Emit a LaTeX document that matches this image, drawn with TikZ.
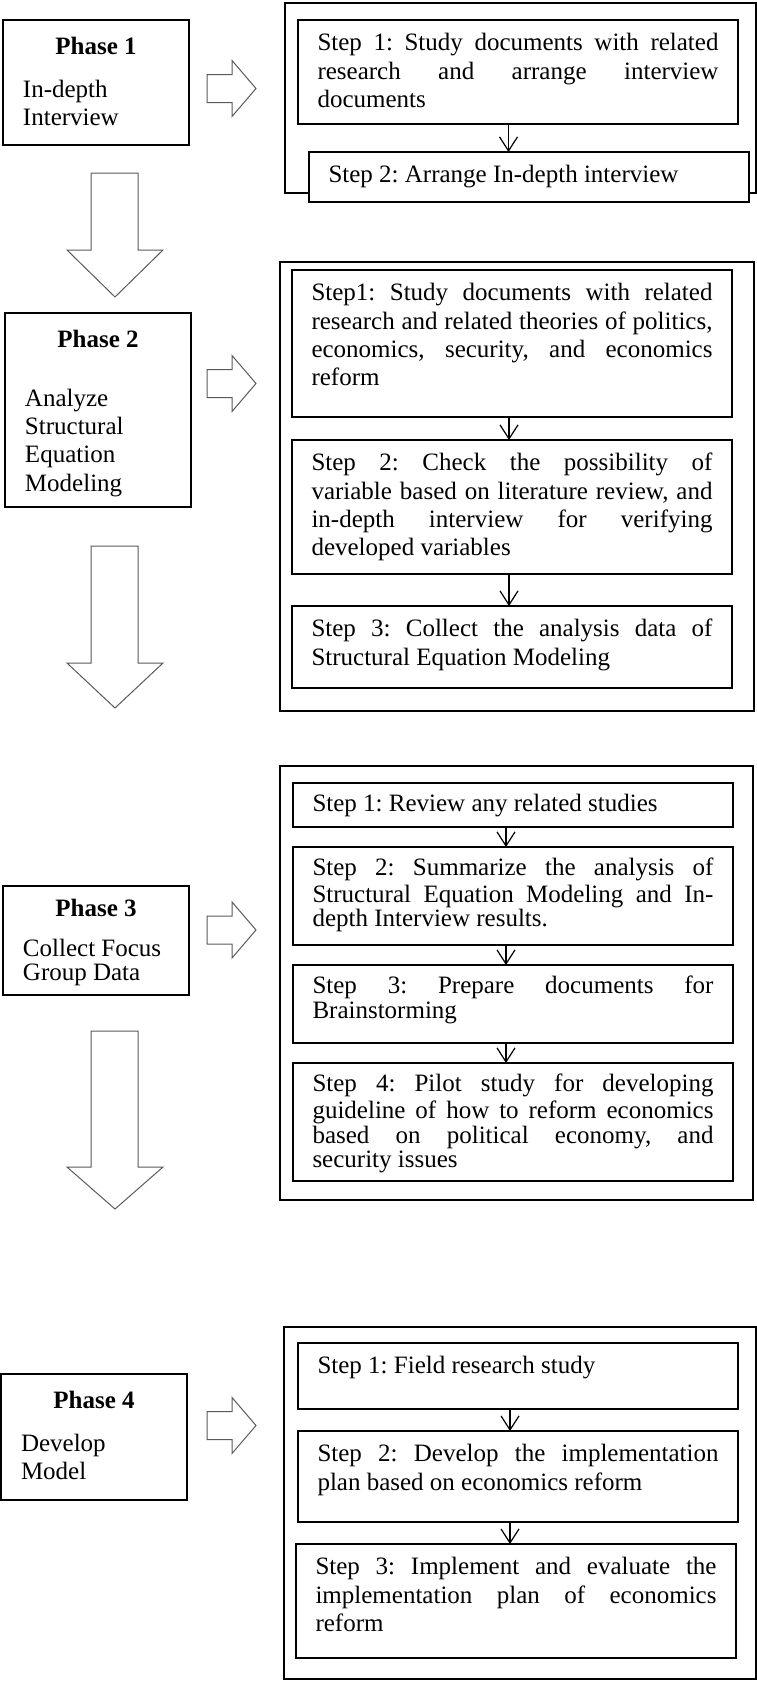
\documentclass[tikz,border=0pt]{standalone}
\usepackage{fontspec}
\setmainfont{Liberation Serif}
\usetikzlibrary{arrows.meta}
\frenchspacing
\hbadness=10000
\vbadness=10000
\hfuzz=2pt
\vfuzz=20pt
\newcommand{\steptext}[2]{\parbox[t][#1][t]{200.5pt}{\hyphenpenalty=10000\tolerance=10000\strut #2}}
\newcommand{\phasetext}[4]{\parbox[t][#1][t]{73pt}{\centering\strut\textbf{#2}\par\vspace{#3}\raggedright #4}}

\begin{document}
\begin{tikzpicture}[x=0.5pt,y=-0.5pt,font=\fontsize{12.5pt}{14.15pt}\selectfont]
    \tikzset{groupbox/.style = {draw,line width=0.75pt,anchor=north west,inner sep=0pt,outer sep=0pt}}
    \tikzset{phasebox/.style = {draw,line width=0.75pt,anchor=north west,inner xsep=10pt,inner ysep=7.1pt,outer sep=0pt}}
    \tikzset{stepbox/.style = {draw,line width=0.75pt,fill=white,anchor=north west,inner xsep=9.75pt,inner ysep=5.5pt,outer sep=0pt}}
    \tikzset{tightlines/.style = {font=\fontsize{12.5pt}{12.25pt}\selectfont}}
    \tikzset{steparrow/.style = {-{Straight Barb[length=7pt,width=9pt]},line width=0.6pt}}
    \tikzset{blockarrow/.style = {draw=black!65,line width=0.5pt}}
    \useasboundingbox (0,0) rectangle (756,1681);

    % groups of steps
    \node[groupbox,minimum width=235.5pt,minimum height=95pt] (c1) at (285,3) {};
    \node[groupbox,minimum width=237pt,minimum height=224.5pt] (c2) at (280,262) {};
    \node[groupbox,minimum width=236.5pt,minimum height=217pt] (c3) at (280,766) {};
    \node[groupbox,minimum width=236pt,minimum height=176pt] (c4) at (284,1327) {};

    % phases
    \node[phasebox] (p1) at (3,20) {\phasetext{48.3pt}{Phase 1}{7.35pt}{In-depth\\Interview}};
    \node[phasebox] (p2) at (5,313) {\phasetext{82.8pt}{Phase 2}{15.5pt}{Analyze\\Structural\\Equation\\Modeling}};
    \node[phasebox,tightlines,inner ysep=6.4pt] (p3) at (3,886) {\phasetext{41.65pt}{Phase 3}{6.75pt}{Collect Focus\\Group Data}};
    \node[phasebox] (p4) at (1,1374) {\phasetext{48.8pt}{Phase 4}{7.35pt}{Develop\\Model}};

    % block arrows
    \draw[blockarrow] (207,74.5) -- (232,74.5) -- (232,60.5) -- (256,88.5) -- (232,116.5) -- (232,102.5) -- (207,102.5) -- cycle;
    \draw[blockarrow] (207,369.5) -- (232,369.5) -- (232,355.5) -- (256,383.5) -- (232,411.5) -- (232,397.5) -- (207,397.5) -- cycle;
    \draw[blockarrow] (207,916) -- (232,916) -- (232,902) -- (256,930) -- (232,958) -- (232,944) -- (207,944) -- cycle;
    \draw[blockarrow] (207,1411.5) -- (232,1411.5) -- (232,1397.5) -- (256,1425.5) -- (232,1453.5) -- (232,1439.5) -- (207,1439.5) -- cycle;
    \draw[blockarrow] (91,173) -- (138,173) -- (138,250) -- (163,250) -- (115,297) -- (67,250) -- (91,250) -- cycle;
    \draw[blockarrow] (91,546) -- (138,546) -- (138,663) -- (163,663) -- (115,708) -- (67,663) -- (91,663) -- cycle;
    \draw[blockarrow] (91,1031) -- (138,1031) -- (138,1167) -- (163,1167) -- (115,1209) -- (67,1167) -- (91,1167) -- cycle;

    % steps of phase 1
    \node[stepbox] (s11) at (298,20) {\steptext{41pt}{Step 1: Study documents with related\linebreak research and arrange interview\linebreak documents}};
    \node[stepbox] (s12) at (309,152) {\steptext{14pt}{Step 2: Arrange In-depth interview}};
    % steps of phase 2
    \node[stepbox] (s21) at (292,270) {\steptext{62.5pt}{Step1: Study documents with related\linebreak research and related theories of politics,\linebreak economics, security, and economics\linebreak reform}};
    \node[stepbox] (s22) at (292,440) {\steptext{56pt}{Step 2: Check the possibility of\linebreak variable based on literature review, and\linebreak in-depth interview for verifying\linebreak developed variables}};
    \node[stepbox] (s23) at (292,606) {\steptext{30pt}{Step 3: Collect the analysis data of\linebreak Structural Equation Modeling}};
    % steps of phase 3
    \node[stepbox,tightlines] (s31) at (293,783) {\steptext{11pt}{Step 1: Review any related studies}};
    \node[stepbox,tightlines] (s32) at (293,847) {\steptext{38pt}{Step 2: Summarize the analysis of\linebreak Structural Equation Modeling and In-\linebreak depth Interview results.}};
    \node[stepbox,tightlines] (s33) at (293,965) {\steptext{28pt}{Step 3: Prepare documents for\linebreak Brainstorming}};
    \node[stepbox,tightlines] (s34) at (293,1063) {\steptext{48pt}{Step 4: Pilot study for developing\linebreak guideline of how to reform economics\linebreak based on political economy, and\linebreak security issues}};
    % steps of phase 4
    \node[stepbox] (s41) at (298,1343) {\steptext{22pt}{Step 1: Field research study}};
    \node[stepbox] (s42) at (298,1431) {\steptext{34.5pt}{Step 2: Develop the implementation\linebreak plan based on economics reform}};
    \node[stepbox] (s43) at (296,1544) {\steptext{46pt}{Step 3: Implement and evaluate the\linebreak implementation plan of economics\linebreak reform}};

    % arrows between steps
    \coordinate (a11) at ([xshift=-4.75pt]s11.south);
    \coordinate (a21) at ([xshift=-1.5pt]s21.south);
    \coordinate (a22) at ([xshift=-1.5pt]s22.south);
    \coordinate (a31) at ([xshift=-3.5pt]s31.south);
    \coordinate (a32) at ([xshift=-3.5pt]s32.south);
    \coordinate (a33) at ([xshift=-3.5pt]s33.south);
    \coordinate (a41) at ([xshift=-4pt]s41.south);
    \coordinate (a42) at ([xshift=-4pt]s42.south);
    \draw[steparrow] (a11) -- (a11 |- s12.north);
    \draw[steparrow] (a21) -- (a21 |- s22.north);
    \draw[steparrow] (a22) -- (a22 |- s23.north);
    \draw[steparrow] (a31) -- (a31 |- s32.north);
    \draw[steparrow] (a32) -- (a32 |- s33.north);
    \draw[steparrow] (a33) -- (a33 |- s34.north);
    \draw[steparrow] (a41) -- (a41 |- s42.north);
    \draw[steparrow] (a42) -- (a42 |- s43.north);
\end{tikzpicture}
\end{document}
